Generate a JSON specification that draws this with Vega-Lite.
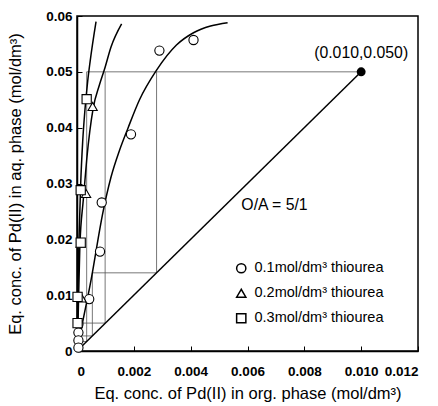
{
  "$schema": "https://vega.github.io/schema/vega-lite/v6.json",
  "autosize": {"type": "none"},
  "width": 341,
  "height": 335,
  "padding": {"left": 77, "top": 16, "right": 20, "bottom": 55},
  "background": "white",
  "config": {
    "view": {"stroke": "black", "strokeWidth": 1.5},
    "font": "Liberation Sans",
    "axis": {
      "domainColor": "black", "domainWidth": 1.5,
      "tickColor": "black", "tickWidth": 1, "tickSize": -5,
      "grid": false,
      "labelFont": "Liberation Sans", "labelFontSize": 13.5, "labelFontWeight": "bold", "labelColor": "black",
      "titleFont": "Liberation Sans", "titleFontSize": 16.5, "titleFontWeight": "normal", "titleColor": "black"
    }
  },
  "datasets": {
    "curves": [
      {"c": "c1", "x": 0, "y": 0},
      {"c": "c1", "x": 0.0002, "y": 0.0052},
      {"c": "c1", "x": 0.00054, "y": 0.014},
      {"c": "c1", "x": 0.00063, "y": 0.0167},
      {"c": "c1", "x": 0.0009, "y": 0.0245},
      {"c": "c1", "x": 0.0012, "y": 0.0312},
      {"c": "c1", "x": 0.0015, "y": 0.036},
      {"c": "c1", "x": 0.0018, "y": 0.04},
      {"c": "c1", "x": 0.0022, "y": 0.045},
      {"c": "c1", "x": 0.0028, "y": 0.0503},
      {"c": "c1", "x": 0.0035, "y": 0.0548},
      {"c": "c1", "x": 0.0041, "y": 0.057},
      {"c": "c1", "x": 0.0047, "y": 0.0582},
      {"c": "c1", "x": 0.0053, "y": 0.0588},
      {"c": "c2", "x": 0, "y": 0},
      {"c": "c2", "x": 0.00004, "y": 0.006},
      {"c": "c2", "x": 0.0001, "y": 0.0187},
      {"c": "c2", "x": 0.00022, "y": 0.027},
      {"c": "c2", "x": 0.00034, "y": 0.0342},
      {"c": "c2", "x": 0.00057, "y": 0.0435},
      {"c": "c2", "x": 0.00078, "y": 0.0475},
      {"c": "c2", "x": 0.00097, "y": 0.0505},
      {"c": "c2", "x": 0.0012, "y": 0.0545},
      {"c": "c2", "x": 0.00157, "y": 0.0586},
      {"c": "c3", "x": 0, "y": 0},
      {"c": "c3", "x": 0.00003, "y": 0.01},
      {"c": "c3", "x": 0.00007, "y": 0.02},
      {"c": "c3", "x": 0.00013, "y": 0.03},
      {"c": "c3", "x": 0.0002, "y": 0.0375},
      {"c": "c3", "x": 0.00028, "y": 0.0432},
      {"c": "c3", "x": 0.00038, "y": 0.0485},
      {"c": "c3", "x": 0.00046, "y": 0.0518},
      {"c": "c3", "x": 0.00067, "y": 0.059}
    ],
    "stairs": [
      {"s": "a", "o": 1, "x": 0.010, "y": 0.05},
      {"s": "a", "o": 2, "x": 0.00034, "y": 0.05},
      {"s": "a", "o": 3, "x": 0.00034, "y": 0.0017},
      {"s": "a", "o": 4, "x": 0.00003, "y": 0.0017},
      {"s": "b", "o": 1, "x": 0.0028, "y": 0.05},
      {"s": "b", "o": 2, "x": 0.0028, "y": 0.014},
      {"s": "b", "o": 3, "x": 0.00054, "y": 0.014},
      {"s": "b", "o": 4, "x": 0.00054, "y": 0.0027},
      {"s": "b", "o": 5, "x": 0.0001, "y": 0.0027},
      {"s": "b", "o": 6, "x": 0.0001, "y": 0.0005},
      {"s": "c", "o": 1, "x": 0.00099, "y": 0.05},
      {"s": "c", "o": 2, "x": 0.00099, "y": 0.005},
      {"s": "c", "o": 3, "x": 0.00008, "y": 0.005},
      {"s": "c", "o": 4, "x": 0.00008, "y": 0.0004}
    ],
    "opline": [
      {"x": 0, "y": 0},
      {"x": 0.010, "y": 0.050}
    ],
    "points": [
      {"series": "0.1mol/dm³ thiourea", "x": 0.0041, "y": 0.0557},
      {"series": "0.1mol/dm³ thiourea", "x": 0.0029, "y": 0.0538},
      {"series": "0.1mol/dm³ thiourea", "x": 0.0019, "y": 0.0388},
      {"series": "0.1mol/dm³ thiourea", "x": 0.00087, "y": 0.0266},
      {"series": "0.1mol/dm³ thiourea", "x": 0.00081, "y": 0.0178},
      {"series": "0.1mol/dm³ thiourea", "x": 0.00043, "y": 0.0093},
      {"series": "0.1mol/dm³ thiourea", "x": 0.00005, "y": 0.0048},
      {"series": "0.1mol/dm³ thiourea", "x": 0.00005, "y": 0.0033},
      {"series": "0.1mol/dm³ thiourea", "x": 0.00005, "y": 0.0019},
      {"series": "0.1mol/dm³ thiourea", "x": 0.00005, "y": 0.0006},
      {"series": "0.2mol/dm³ thiourea", "x": 0.00055, "y": 0.0438},
      {"series": "0.2mol/dm³ thiourea", "x": 0.00032, "y": 0.0282},
      {"series": "0.2mol/dm³ thiourea", "x": 0.00013, "y": 0.0193},
      {"series": "0.2mol/dm³ thiourea", "x": 0.00016, "y": 0.0095},
      {"series": "0.3mol/dm³ thiourea", "x": 0.00034, "y": 0.0451},
      {"series": "0.3mol/dm³ thiourea", "x": 0.00013, "y": 0.0288},
      {"series": "0.3mol/dm³ thiourea", "x": 0.00013, "y": 0.0194},
      {"series": "0.3mol/dm³ thiourea", "x": 0.00002, "y": 0.0097},
      {"series": "0.3mol/dm³ thiourea", "x": 0.00002, "y": 0.005}
    ],
    "feed": [{"x": 0.010, "y": 0.050}],
    "notes": [
      {"x": 0.00695, "y": 0.0262, "t": "O/A = 5/1"},
      {"x": 0.010, "y": 0.0534, "t": "(0.010,0.050)"}
    ]
  },
  "layer": [
    {
      "data": {"name": "stairs"},
      "mark": {"type": "line", "stroke": "#555555", "strokeWidth": 0.8},
      "encoding": {
        "x": {"field": "x", "type": "quantitative", "scale": {"domain": [0, 0.012], "nice": false},
          "axis": {
            "title": "Eq. conc. of Pd(II) in org. phase (mol/dm³)",
            "values": [0, 0.001, 0.002, 0.003, 0.004, 0.005, 0.006, 0.007, 0.008, 0.009, 0.010, 0.011, 0.012],
            "labelExpr": "datum.value == 0 ? '0' : (round(datum.value * 1000) % 2 == 0 ? format(datum.value, '.3f') : '')",
            "labelPadding": 18, "titlePadding": 8
          }},
        "y": {"field": "y", "type": "quantitative", "scale": {"domain": [0, 0.06], "nice": false},
          "axis": {
            "title": "Eq. conc. of Pd(II) in aq. phase (mol/dm³)",
            "values": [0, 0.005, 0.01, 0.015, 0.02, 0.025, 0.03, 0.035, 0.04, 0.045, 0.05, 0.055, 0.06],
            "labelExpr": "datum.value == 0 ? '0' : (round(datum.value * 1000) % 10 == 0 ? format(datum.value, '.2f') : '')",
            "labelPadding": 10, "titlePadding": 22
          }},
        "detail": {"field": "s"},
        "order": {"field": "o"}
      }
    },
    {
      "data": {"name": "curves"},
      "mark": {"type": "line", "stroke": "black", "strokeWidth": 1.5, "interpolate": "monotone"},
      "encoding": {
        "x": {"field": "x", "type": "quantitative"},
        "y": {"field": "y", "type": "quantitative"},
        "detail": {"field": "c"},
        "order": {"field": "y"}
      }
    },
    {
      "data": {"name": "opline"},
      "mark": {"type": "line", "stroke": "black", "strokeWidth": 1.5},
      "encoding": {
        "x": {"field": "x", "type": "quantitative"},
        "y": {"field": "y", "type": "quantitative"}
      }
    },
    {
      "data": {"name": "points"},
      "mark": {"type": "point", "filled": false, "fill": "white", "fillOpacity": 1, "strokeWidth": 1.1, "size": 85},
      "encoding": {
        "x": {"field": "x", "type": "quantitative"},
        "y": {"field": "y", "type": "quantitative"},
        "color": {"value": "black"},
        "shape": {"field": "series", "type": "nominal",
          "scale": {"domain": ["0.1mol/dm³ thiourea", "0.2mol/dm³ thiourea", "0.3mol/dm³ thiourea"], "range": ["circle", "triangle-up", "square"]},
          "legend": {
            "title": null, "orient": "none", "legendX": 157, "legendY": 245,
            "rowPadding": 9, "labelOffset": 6,
            "labelFont": "Liberation Sans", "labelFontSize": 14.5, "labelColor": "black",
            "symbolSize": 85
          }}
      }
    },
    {
      "data": {"name": "feed"},
      "mark": {"type": "point", "filled": true, "fill": "black", "size": 80, "opacity": 1},
      "encoding": {
        "x": {"field": "x", "type": "quantitative"},
        "y": {"field": "y", "type": "quantitative"}
      }
    },
    {
      "data": {"name": "notes"},
      "mark": {"type": "text", "font": "Liberation Sans", "fontSize": 15.8, "color": "black", "align": "center", "baseline": "middle"},
      "encoding": {
        "x": {"field": "x", "type": "quantitative"},
        "y": {"field": "y", "type": "quantitative"},
        "text": {"field": "t"}
      }
    }
  ]
}
